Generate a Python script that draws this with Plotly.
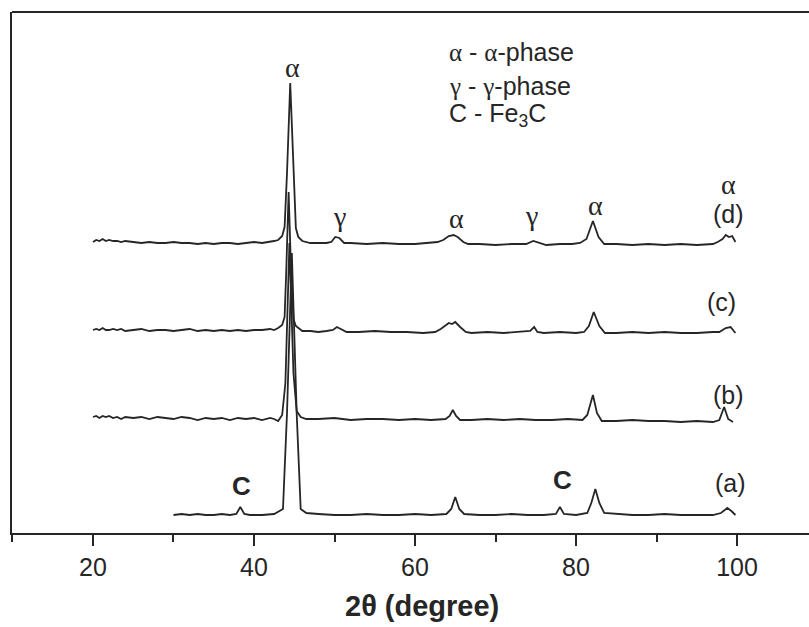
import plotly.graph_objects as go

# ---------------- data (2theta in degrees, intensity in arbitrary units, offset per pattern)
left_x = [20, 20.4, 20.8, 21.2, 21.6, 22, 22.5, 23, 23.5, 24, 25, 26, 27, 28, 29, 30,
          31, 32, 33, 34, 35, 36, 37, 38, 39, 40, 41, 42, 42.5, 43]

d_x = left_x + [43.5, 43.8, 44.1, 44.5, 44.9, 45.2, 45.5, 46, 47, 48,
                49, 49.6, 50.1, 50.6, 51.2, 52, 54, 56, 58, 60,
                62, 62.8, 63.5, 64.2, 64.8, 65.3, 66, 66.6, 68, 70,
                72, 73.8, 74.7, 75.5, 76.3, 78, 79.5, 80.5, 81.3, 82.1,
                82.8, 83.5, 85, 87, 89, 91, 93, 95, 97, 97.6,
                98.2, 98.6, 99.0, 99.4, 99.8]
d_y = [291, 293, 292, 294, 292, 293, 292, 292, 291, 292, 291, 290, 291, 290, 290, 291,
       290, 290, 289, 290, 289, 290, 290, 289, 290, 291, 290, 291, 292, 293,
       297, 306, 360, 450, 360, 305, 296, 292, 290, 290,
       290, 291, 296, 295, 290, 290, 289, 290, 289, 289,
       290, 291, 293, 297, 298, 296, 291, 289, 289, 288,
       289, 289, 292, 290, 288, 289, 289, 290, 294, 312,
       296, 289, 289, 288, 289, 288, 289, 288, 289, 291,
       294, 298, 296, 297, 291]

c_x = left_x + [43.5, 43.8, 44.0, 44.3, 44.6, 44.9, 45.2, 45.6, 46, 47,
                48, 49, 49.8, 50.3, 50.8, 51.5, 53, 55, 57, 59,
                61, 62.5, 63.2, 63.8, 64.2, 64.6, 65.0, 65.6, 66.3, 67,
                69, 71, 73, 74.3, 74.8, 75.2, 76, 78, 80, 81.0,
                81.6, 82.2, 82.9, 83.6, 85, 87, 89, 91, 93, 95,
                97, 97.8, 98.6, 99.2, 99.8]
c_y = [203, 204, 203, 205, 203, 203, 204, 203, 204, 202, 203, 204, 202, 203, 203, 202,
       203, 204, 202, 203, 202, 203, 202, 203, 202, 203, 203, 204, 203, 205,
       208, 216, 260, 341, 262, 214, 207, 204, 202, 202,
       201, 202, 203, 206, 204, 201, 201, 202, 201, 201,
       200, 201, 204, 208, 210, 209, 211, 206, 201, 200,
       201, 200, 201, 202, 206, 201, 200, 201, 200, 201,
       207, 221, 207, 200, 200, 201, 200, 201, 200, 200,
       201, 201, 205, 206, 200]

b_x = left_x + [43.5, 43.9, 44.4, 44.9, 45.3, 45.8, 46.5, 48, 50, 52,
                54, 56, 58, 60, 62, 63.8, 64.3, 64.7, 65.1, 65.6,
                67, 69, 71, 73, 75, 77, 79, 80.8, 81.4, 82.1,
                82.6, 83.2, 85, 87, 89, 91, 93, 95, 97, 97.8,
                98.4, 98.9, 99.5]
b_y = [116, 117, 115, 117, 116, 117, 115, 116, 114, 116, 115, 116, 114, 116, 115, 114,
       116, 115, 113, 115, 114, 115, 113, 115, 114, 115, 113, 115, 114, 112,
       118, 150, 290, 160, 122, 116, 114, 114, 115, 113,
       114, 114, 113, 114, 113, 114, 117, 123, 117, 113,
       113, 114, 113, 114, 113, 113, 114, 113, 118, 138,
       120, 112, 112, 113, 112, 112, 111, 112, 111, 113,
       126, 114, 111]

a_x = [30, 31, 32, 33, 34, 35, 36, 37, 37.8, 38.3,
       38.8, 39.5, 41, 42.5, 43.6, 44.1, 44.7, 45.3, 45.8, 46.5,
       48, 50, 52, 54, 56, 58, 60, 62, 63.9, 64.5,
       65.0, 65.5, 66.1, 68, 70, 72, 74, 76, 77.5, 78.0,
       78.5, 80, 81.4, 81.9, 82.4, 82.9, 83.5, 85, 87, 89,
       91, 93, 95, 97, 98.0, 98.8, 99.3, 99.8]
a_y = [18, 19, 18, 19, 18, 18, 19, 18, 19, 26,
       19, 18, 18, 19, 24, 120, 280, 120, 24, 20,
       19, 18, 18, 19, 18, 18, 19, 18, 19, 24,
       36, 24, 19, 18, 18, 19, 18, 18, 19, 26,
       19, 18, 20, 30, 44, 30, 20, 19, 18, 18,
       19, 18, 18, 18, 20, 25, 22, 18]

# peak labels (Greek, serif)
phase_text = ["α", "γ", "α", "γ", "α", "α"]
phase_x = [44.72, 50.68, 65.2, 74.5, 82.4, 99.0]
phase_y = [466, 317, 315, 318, 328, 349]

# carbide labels
carb_text = ["C", "C"]
carb_x = [38.4, 78.3]
carb_y = [47, 53]

# sample labels
samp_text = ["(d)", "(c)", "(b)", "(a)"]
samp_x = [98.9, 98.1, 98.9, 99.25]
samp_y = [319, 231, 138, 50]

# key text
GK = '<span style="font-family:Liberation Serif, serif">%s</span>'
key_text = [GK % "α" + " - " + GK % "α" + "-phase",
            GK % "γ" + " - " + GK % "γ" + "-phase",
            "C - Fe<sub>3</sub>C"]
key_x = 63.98
key_y = [481, 447, 418]

x_ticks = [20, 40, 60, 80, 100]
x_minor = [10, 30, 50, 70, 90]

# ---------------- figure
INK = "#262626"
SANS = "Liberation Sans, Arial, sans-serif"
SERIF = "Liberation Serif, Times New Roman, serif"

fig = go.Figure()
for xs, ys in [(a_x, a_y), (b_x, b_y), (c_x, c_y), (d_x, d_y)]:
    fig.add_trace(go.Scatter(x=xs, y=ys, mode="lines",
                             line=dict(color=INK, width=1.8),
                             showlegend=False, hoverinfo="skip"))

ann = []
for t, x, y in zip(phase_text, phase_x, phase_y):
    ann.append(dict(text=t, x=x, y=y, xref="x", yref="y", showarrow=False,
                    font=dict(family=SERIF, size=28, color=INK)))
for t, x, y in zip(carb_text, carb_x, carb_y):
    ann.append(dict(text="<b>%s</b>" % t, x=x, y=y, xref="x", yref="y", showarrow=False,
                    font=dict(family=SANS, size=26, color=INK)))
for t, x, y in zip(samp_text, samp_x, samp_y):
    ann.append(dict(text=t, x=x, y=y, xref="x", yref="y", showarrow=False,
                    font=dict(family=SANS, size=25, color=INK)))
for t, y in zip(key_text, key_y):
    ann.append(dict(text=t, x=key_x, y=y, xref="x", yref="y", showarrow=False,
                    xanchor="left", font=dict(family=SANS, size=25, color=INK)))
ann.append(dict(text="<b>2θ (degree)</b>", x=0.515, y=-0.14, xref="paper", yref="paper",
                showarrow=False, yanchor="middle",
                font=dict(family=SANS, size=29, color=INK)))

fig.update_layout(
    width=809, height=627,
    margin=dict(l=12, r=0, t=12, b=94),
    paper_bgcolor="white", plot_bgcolor="white",
    annotations=ann,
    shapes=[dict(type="line", xref="paper", yref="paper", x0=0, x1=1, y0=1, y1=1,
                 line=dict(color=INK, width=2))],
    xaxis=dict(range=[9.94, 108.94], showgrid=False, zeroline=False,
               showline=True, linecolor=INK, linewidth=2,
               tickmode="array", tickvals=x_ticks, ticks="outside",
               ticklen=11, tickwidth=2, tickcolor=INK,
               tickfont=dict(family=SANS, size=25, color=INK),
               minor=dict(tickmode="array", tickvals=x_minor, ticks="outside",
                          ticklen=7, tickwidth=2, tickcolor=INK)),
    yaxis=dict(range=[0, 521], showgrid=False, zeroline=False,
               showline=True, linecolor=INK, linewidth=2,
               showticklabels=False, ticks=""),
)

fig.write_html("out.html")
